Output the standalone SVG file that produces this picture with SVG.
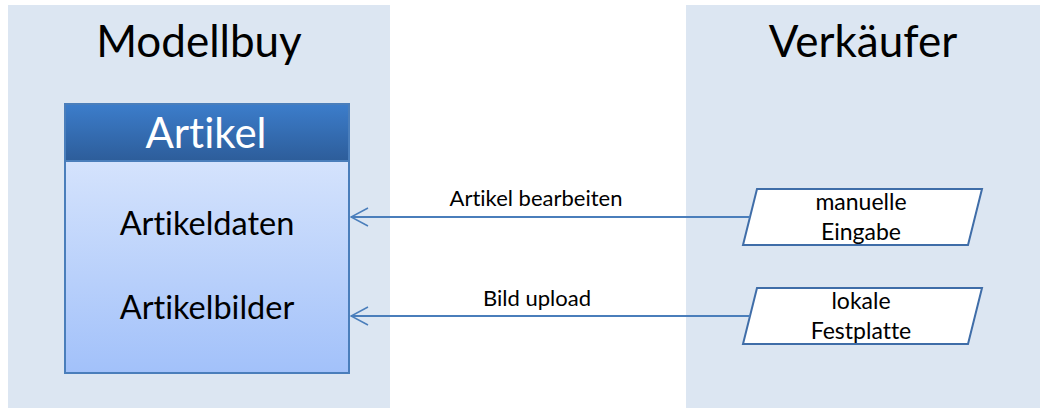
<svg xmlns="http://www.w3.org/2000/svg" width="1040" height="408" viewBox="0 0 1040 408">
<defs>
<linearGradient id="hdr" x1="0" y1="0" x2="0" y2="1">
<stop offset="0" stop-color="#3C7DCB"/>
<stop offset="1" stop-color="#2D5D9A"/>
</linearGradient>
<linearGradient id="body" x1="0" y1="0" x2="0" y2="1">
<stop offset="0" stop-color="#E2ECFD"/>
<stop offset="1" stop-color="#A2C1FA"/>
</linearGradient>
<marker id="arr" viewBox="0 0 20 20" refX="19" refY="10" markerWidth="20" markerHeight="20" markerUnits="userSpaceOnUse" orient="auto">
<path d="M2,1 L19,10 L2,19" fill="none" stroke="#4A7EBB" stroke-width="1.5"/>
</marker>
</defs>
<style>
text{font-family:Lato,"Liberation Sans",sans-serif;text-anchor:middle;fill:#000;font-variant-ligatures:none;font-feature-settings:"liga" 0}
.panel{fill:#DCE6F2}
.title{font-size:44px}
.item{font-size:32.5px}
.lbl{font-size:22px}
.io{fill:#fff;stroke:#3F6DA8;stroke-width:2}
.io-t{font-size:23px}
.conn{stroke:#4A7EBB;stroke-width:2;fill:none}
</style>
<g id="panel-modellbuy">
<rect class="panel" x="8" y="5" width="382" height="403"/>
<text class="title" x="199" y="57">Modellbuy</text>
</g>
<g id="panel-verkaeufer">
<rect class="panel" x="686" y="5" width="354" height="403"/>
<text class="title" x="863" y="57">Verkäufer</text>
</g>
<g id="artikel">
<rect x="65" y="104" width="284" height="269" fill="url(#body)" stroke="#4A7EBB" stroke-width="2"/>
<rect x="65" y="104" width="284" height="57" fill="url(#hdr)" stroke="#4A7EBB" stroke-width="2"/>
<text x="206" y="148" style="font-size:42px;fill:#fff">Artikel</text>
<text class="item" x="207" y="235">Artikeldaten</text>
<text class="item" x="207" y="319">Artikelbilder</text>
</g>
<g id="manuelle-eingabe">
<polygon class="io" points="757,189 982,189 968,245 743,245"/>
<text class="io-t" x="861" y="210">manuelle</text>
<text class="io-t" x="861" y="240">Eingabe</text>
</g>
<g id="lokale-festplatte">
<polygon class="io" points="757,288 982,288 968,344 743,344"/>
<text class="io-t" x="861" y="309">lokale</text>
<text class="io-t" x="861" y="339">Festplatte</text>
</g>
<g id="connectors">
<line class="conn" x1="750" y1="217" x2="351" y2="217" marker-end="url(#arr)"/>
<line class="conn" x1="750" y1="316" x2="351" y2="316" marker-end="url(#arr)"/>
<text class="lbl" x="536" y="206">Artikel bearbeiten</text>
<text class="lbl" x="537" y="306">Bild upload</text>
</g>
</svg>
